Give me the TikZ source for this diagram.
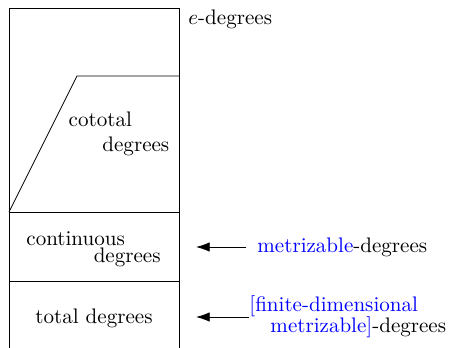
\documentclass[tikz,border=0pt]{standalone}
\usepackage{xcolor}
\usepackage{tikz}
\usetikzlibrary{arrows.meta,positioning}

\begin{document}
\begin{tikzpicture}[
    x=0.475pt, y=-0.475pt,
    region/.style={font=\normalsize, align=left, inner sep=0pt},
    arrow/.style={-{Latex[length=6.5pt,width=4.5pt]}},
    hl/.style={text=blue},
  ]
    \useasboundingbox (0,0) rectangle (450,347);
    % outer box and its slices
    \draw (9,350) -- (9,8) -- (179,8) -- (179,350);
    \draw (9,212) -- (179,212);
    \draw (9,281) -- (179,281);
    \draw (9,212) -- (77,76) -- (179,76);

    \node[region, anchor=west] (edeg) at (188,19) {$e$-degrees};
    \node[region] (cototal) at (119,134) {cototal\\\hspace*{16pt}degrees};
    \node[region] (cont) at (93.5,249) {continuous\\[-4pt]\hspace*{32pt}degrees};
    \node[region] (total) at (94,318) {total degrees};

    \node[region, anchor=west] (metlabel) at (257,247) {\textcolor{blue}{metrizable}-degrees};
    \node[region, anchor=west] (finlabel) at (249,317)
      {\textcolor{blue}{[finite-dimensional}\\[-2pt]\hspace*{10pt}\textcolor{blue}{metrizable]}-degrees};

    \coordinate (mettip) at (196,246);
    \coordinate (fintip) at (196,316);
    \draw[arrow] ([xshift=-5pt]metlabel.west) -- (metlabel.west -| mettip);
    \draw[arrow] (finlabel.west) -- (finlabel.west -| fintip);
  \end{tikzpicture}
\end{document}
